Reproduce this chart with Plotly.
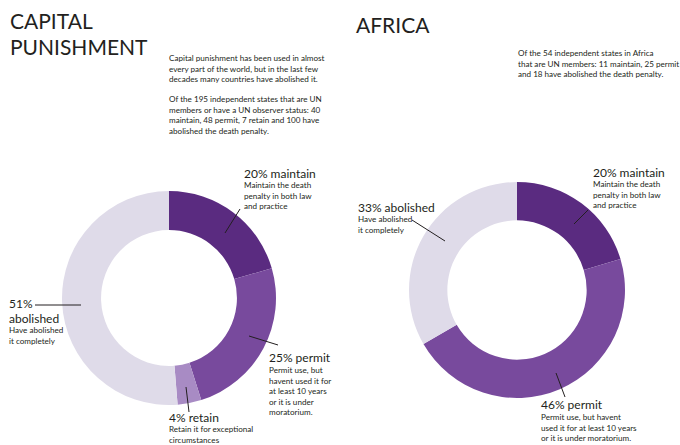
import plotly.graph_objects as go

W, H = 680, 445

# ---- data ----
world_cats = ["maintain", "permit", "retain", "abolished"]
world_vals = [40, 48, 7, 100]
africa_cats = ["maintain", "permit", "abolished"]
africa_vals = [11, 25, 18]

cat_colors = {"maintain": "#5a2b80", "permit": "#784a9d", "retain": "#a88bc4", "abolished": "#dfdbe9"}

world_labels = ["20% maintain", "25% permit", "4% retain", "51%", "abolished"]
africa_labels = ["20% maintain", "46% permit", "33% abolished"]

FONT = "Lato"
TXT = "#231f20"
SMALL = 8.1
LABEL = 12
TITLE = 21


def px(x, y):
    return x / W, 1 - y / H


fig = go.Figure()

# left donut: center (169,298), R 107
fig.add_trace(go.Pie(
    labels=world_cats, values=world_vals, hole=0.635, sort=False, direction="clockwise",
    rotation=0, marker=dict(colors=[cat_colors[c] for c in world_cats], line=dict(width=0)),
    textinfo="none", hoverinfo="label+value", showlegend=False,
    domain=dict(x=[(169 - 107) / W, (169 + 107) / W], y=[1 - (298 + 107) / H, 1 - (298 - 107) / H]),
))
# right donut: center (517,290), R 108
fig.add_trace(go.Pie(
    labels=africa_cats, values=africa_vals, hole=0.645, sort=False, direction="clockwise",
    rotation=0, marker=dict(colors=[cat_colors[c] for c in africa_cats], line=dict(width=0)),
    textinfo="none", hoverinfo="label+value", showlegend=False,
    domain=dict(x=[(517 - 108) / W, (517 + 108) / W], y=[1 - (290 + 108) / H, 1 - (290 - 108) / H]),
))

annotations = []


def text(x, y, s, size, anchor="middle"):
    ax, ay = px(x, y)
    annotations.append(dict(x=ax, y=ay, xref="paper", yref="paper", text=s, showarrow=False,
                            xanchor="left", yanchor=anchor, borderpad=0, align="left",
                            font=dict(family=FONT, size=size, color=TXT)))


def block(x, y_first, items, size=SMALL):
    # multi-line block, y_first = centre of first line
    top = y_first - size * 1.3 / 2
    text(x, top, "<br>".join(items), size, anchor="top")


# titles
text(9, 21, "CAPITAL", TITLE)
text(9, 46, "PUNISHMENT", TITLE)
text(355, 24, "AFRICA", TITLE)

# paragraphs
total = sum(world_vals)
block(168, 57, ["Capital punishment has been used in almost",
                "every part of the world, but in the last few",
                "decades many countries have abolished it."])
block(168, 98, [f"Of the {total} independent states that are UN",
                f"members or have a UN observer status: {world_vals[0]}",
                f"maintain, {world_vals[1]} permit, {world_vals[2]} retain and {world_vals[3]} have",
                "abolished the death penalty."])
block(517, 52, [f"Of the {sum(africa_vals)} independent states in Africa",
                f"that are UN members: {africa_vals[0]} maintain, {africa_vals[1]} permit",
                f"and {africa_vals[2]} have abolished the death penalty."])

# left donut labels
text(243, 173, world_labels[0], LABEL)
block(243, 184.5, ["Maintain the death", "penalty in both law", "and practice"])
text(8, 303.5, world_labels[3], LABEL)
text(8, 318, world_labels[4], LABEL)
block(8, 329, ["Have abolished", "it completely"])
text(268, 357, world_labels[1], LABEL)
block(268, 369.5, ["Permit use, but", "havent used it for", "at least 10 years", "or it is under", "moratorium."])
text(168, 417, world_labels[2], LABEL)
block(168, 428.5, ["Retain it for exceptional", "circumstances"])

# right donut labels
text(592, 172, africa_labels[0], LABEL)
block(592, 183.5, ["Maintain the death", "penalty in both law", "and practice"])
text(357, 207, africa_labels[2], LABEL)
block(357, 218.5, ["Have abolished", "it completely"])
text(540, 404, africa_labels[1], LABEL)
block(540, 416, ["Permit use, but havent", "used it for at least 10 years", "or it is under moratorium."])

# leader lines
leaders = [
    ((225, 233), (240, 209)),
    ((35, 305), (81, 305)),
    ((249, 336), (278, 345)),
    ((186, 387), (189, 412)),
    ((574, 224), (588, 210)),
    ((412, 220), (445, 241)),
    ((556, 373), (565, 397)),
]
shapes = []
for (x0, y0), (x1, y1) in leaders:
    a0, b0 = px(x0, y0)
    a1, b1 = px(x1, y1)
    shapes.append(dict(type="line", xref="paper", yref="paper", x0=a0, y0=b0, x1=a1, y1=b1,
                       line=dict(color=TXT, width=1)))

fig.update_layout(
    width=W, height=H, margin=dict(l=0, r=0, t=0, b=0),
    paper_bgcolor="white", plot_bgcolor="white",
    annotations=annotations, shapes=shapes, showlegend=False,
)

fig.write_html("out.html")
